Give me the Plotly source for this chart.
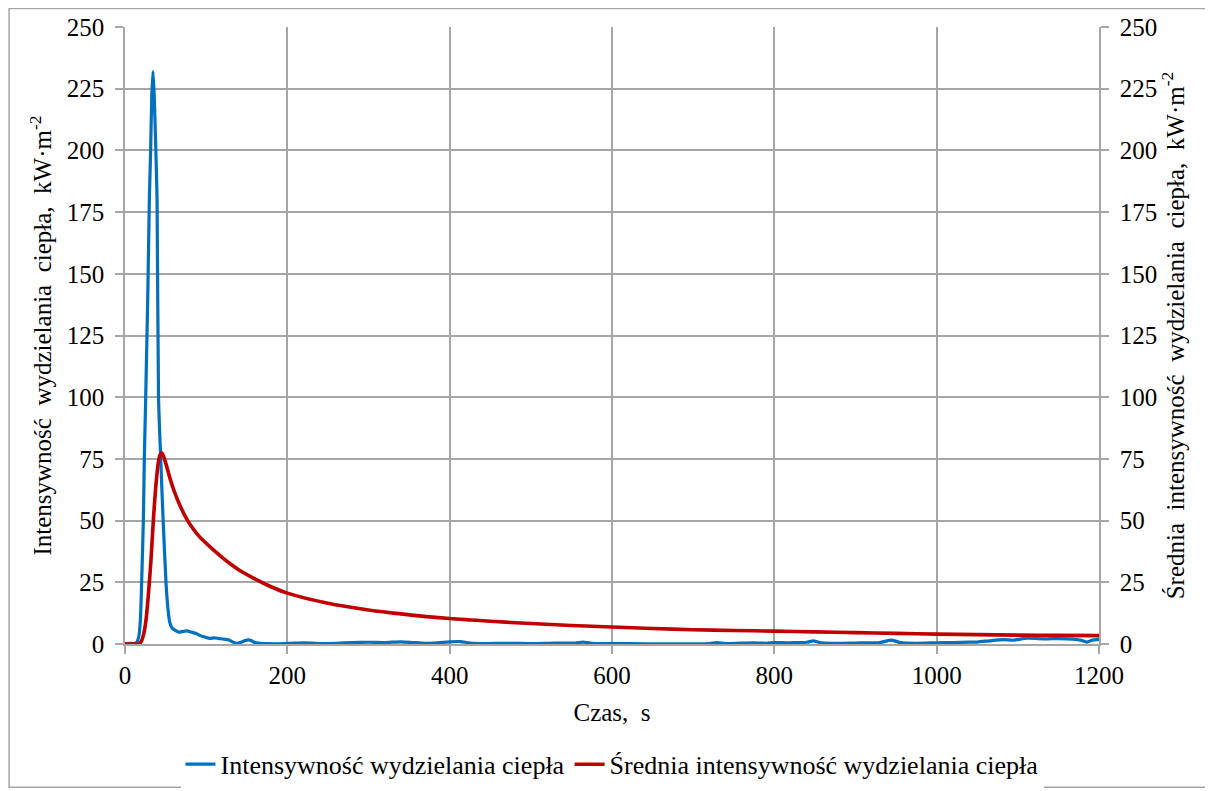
import plotly.graph_objects as go

# Czas, s  -- Intensywność wydzielania ciepła (HRR), kW·m-2
t_hrr = [0, 5, 10, 14, 17, 19, 20.5, 22.6, 23.8, 25.5, 28, 30, 31.6, 33, 34.5, 36, 38, 39.5,
         41.3, 44, 47, 50.5, 53, 55, 58, 62, 66, 70, 76, 82, 88, 92, 98, 104, 110, 116, 122,
         128, 134, 138, 144, 148, 152, 156, 160, 166, 175, 190, 205, 220, 240, 260, 280, 300,
         320, 340, 355, 370, 385, 400, 413, 425, 445, 470, 500, 530, 555, 564, 575, 600, 640,
         680, 720, 729, 740, 774, 790, 800, 815, 828, 840, 848, 856, 870, 900, 930, 944, 955,
         975, 1000, 1020, 1040, 1050, 1065, 1082, 1095, 1111, 1125, 1136, 1150, 1168, 1178,
         1185, 1192, 1200]
hrr = [0, 0.3, 0.2, 0.5, 3, 10, 25, 50, 75, 100, 140, 180, 200, 222, 232, 222, 200, 180,
       100, 75, 50, 25, 14, 9, 6.5, 5.5, 4.8, 5, 5.3, 4.8, 4.2, 3.5, 2.8, 2.3, 2.5, 2.2, 2.0,
       1.6, 0.6, 0.3, 0.8, 1.4, 1.7, 1.3, 0.6, 0.3, 0.2, 0.1, 0.3, 0.5, 0.2, 0.3, 0.6, 0.7,
       0.6, 0.9, 0.6, 0.3, 0.5, 0.9, 1.0, 0.4, 0.2, 0.3, 0.2, 0.4, 0.4, 0.8, 0.3, 0.2, 0.1,
       0.1, 0.2, 0.6, 0.2, 0.5, 0.3, 0.6, 0.5, 0.6, 0.7, 1.3, 0.6, 0.3, 0.4, 0.6, 1.6, 0.6,
       0.3, 0.5, 0.6, 0.8, 0.8, 1.3, 1.8, 1.6, 2.4, 2.2, 2.1, 2.2, 2.0, 1.5,
       0.8, 1.6, 1.9]

# Średnia intensywność wydzielania ciepła, kW·m-2
t_avg = [0, 10, 17, 20, 23, 26, 28, 30, 32, 34.9, 38, 41, 43, 45, 47, 50, 53, 56, 60, 65, 70,
         76.8, 85, 92, 100, 110, 120, 130, 140, 160, 180, 200, 250, 300, 340, 400, 450, 500,
         550, 600, 650, 700, 750, 800, 850, 900, 950, 1000, 1050, 1100, 1150, 1200]
avg = [0, 0, 0, 1, 4, 10, 17, 25, 34, 50, 64, 73.5, 76.5, 77.5, 76.5, 73.5, 70, 66.5, 62.5,
       58.2, 54.5, 50.2, 46.2, 43.4, 40.8, 37.8, 35, 32.4, 30.1, 26.4, 23.2, 20.6, 16.5, 13.8,
       12.2, 10.3, 9.2, 8.3, 7.5, 6.9, 6.3, 5.8, 5.5, 5.2, 4.9, 4.6, 4.3, 4.0, 3.8, 3.6, 3.5,
       3.4]

x_ticks = [0, 200, 400, 600, 800, 1000, 1200]
y_ticks = [0, 25, 50, 75, 100, 125, 150, 175, 200, 225, 250]

name_hrr = "Intensywność wydzielania ciepła"
name_avg = "Średnia intensywność wydzielania ciepła"

FONT = "Liberation Serif"
GRID = "#A6A6A6"
BLUE = "#0070C0"
RED = "#C00000"
F_TICK = dict(family=FONT, size=25, color="black")
F_TIT = dict(family=FONT, size=25, color="black")
F_LEG = dict(family=FONT, size=26, color="black")

fig = go.Figure()
fig.add_trace(go.Scatter(x=t_hrr, y=hrr, mode="lines", name=name_hrr,
                         line=dict(color=BLUE, width=3.2, shape="spline", smoothing=0.6)))
fig.add_trace(go.Scatter(x=t_avg, y=avg, mode="lines", name=name_avg, yaxis="y2",
                         line=dict(color=RED, width=3.6, shape="spline", smoothing=0.7)))

fig.update_layout(
    width=1205, height=783,
    paper_bgcolor="white", plot_bgcolor="white",
    margin=dict(l=117, r=114, t=19, b=147, autoexpand=False),
    font=dict(family=FONT, size=25, color="black"),
    showlegend=True,
    legend=dict(orientation="h", x=0.5, xanchor="center", y=-0.195, yanchor="middle",
                font=F_LEG, itemwidth=30),
    xaxis=dict(range=[0, 1200], tickvals=x_ticks, showgrid=True, gridcolor=GRID,
               gridwidth=1.5, showline=True, linecolor=GRID, linewidth=1.5,
               ticks="outside", tickcolor=GRID, ticklen=8, tickwidth=1.5,
               tickfont=F_TICK, zeroline=False, automargin=False,
               title=dict(text="Czas,  s", font=F_TIT, standoff=16)),
    yaxis=dict(range=[0, 250], tickvals=y_ticks, showgrid=True, gridcolor=GRID,
               gridwidth=1.5, showline=True, linecolor=GRID, linewidth=1.5,
               ticks="outside", tickcolor=GRID, ticklen=8, tickwidth=1.5,
               tickfont=F_TICK, zeroline=False, automargin=False, ticklabelstandoff=6,
               title=dict(text="Intensywność  wydzielania  ciepła,  kW·m<sup>-2</sup>",
                          font=F_TIT, standoff=8)),
    yaxis2=dict(range=[0, 250], tickvals=y_ticks, overlaying="y", side="right",
                showgrid=False, showline=True, linecolor=GRID, linewidth=1.5,
                ticks="outside", tickcolor=GRID, ticklen=8, tickwidth=1.5,
                tickfont=F_TICK, zeroline=False, automargin=False, ticklabelstandoff=6,
                title=dict(text="Średnia  intensywność  wydzielania  ciepła,  kW·m<sup>-2</sup>",
                           font=F_TIT, standoff=8)),
)

# frame of the chart area
fig.add_shape(type="rect", xref="paper", yref="paper",
              x0=-0.119, x1=1.113, y0=-0.232, y1=1.03,
              line=dict(color="#A6A6A6", width=1.5), layer="below")

fig.write_html("out.html")
